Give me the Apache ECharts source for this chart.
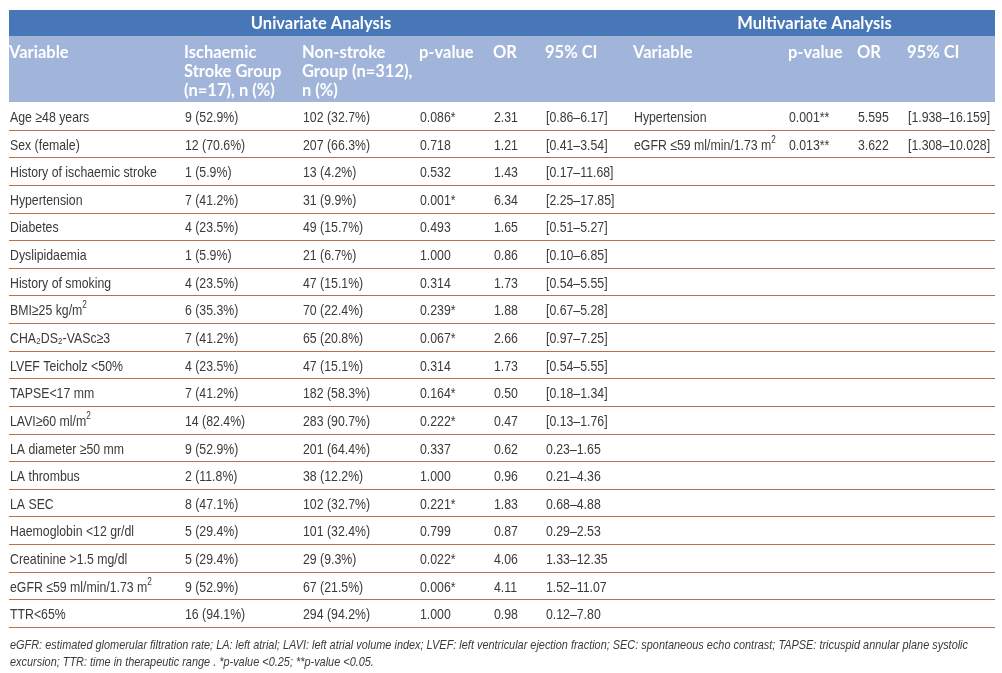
<!DOCTYPE html>
<html><head><meta charset="utf-8">
<script src="https://cdn.jsdelivr.net/npm/echarts@6/dist/echarts.min.js"></script>
<style>html,body{margin:0;padding:0;background:#fff}#c{width:1002px;height:673px}</style>
</head><body><div id="c"></div>
<script>
// ---- data ----
const variables = ['Age ≥48 years','Sex (female)','History of ischaemic stroke','Hypertension','Diabetes','Dyslipidaemia','History of smoking','BMI≥25 kg/m²','CHA₂DS₂-VASc≥3','LVEF Teicholz <50%','TAPSE<17 mm','LAVI≥60 ml/m²','LA diameter ≥50 mm','LA thrombus','LA SEC','Haemoglobin <12 gr/dl','Creatinine >1.5 mg/dl','eGFR ≤59 ml/min/1.73 m²','TTR<65%'];
const strokeGroup = ['9 (52.9%)','12 (70.6%)','1 (5.9%)','7 (41.2%)','4 (23.5%)','1 (5.9%)','4 (23.5%)','6 (35.3%)','7 (41.2%)','4 (23.5%)','7 (41.2%)','14 (82.4%)','9 (52.9%)','2 (11.8%)','8 (47.1%)','5 (29.4%)','5 (29.4%)','9 (52.9%)','16 (94.1%)'];
const nonStrokeGroup = ['102 (32.7%)','207 (66.3%)','13 (4.2%)','31 (9.9%)','49 (15.7%)','21 (6.7%)','47 (15.1%)','70 (22.4%)','65 (20.8%)','47 (15.1%)','182 (58.3%)','283 (90.7%)','201 (64.4%)','38 (12.2%)','102 (32.7%)','101 (32.4%)','29 (9.3%)','67 (21.5%)','294 (94.2%)'];
const pValues = ['0.086*','0.718','0.532','0.001*','0.493','1.000','0.314','0.239*','0.067*','0.314','0.164*','0.222*','0.337','1.000','0.221*','0.799','0.022*','0.006*','1.000'];
const oddsRatios = ['2.31','1.21','1.43','6.34','1.65','0.86','1.73','1.88','2.66','1.73','0.50','0.47','0.62','0.96','1.83','0.87','4.06','4.11','0.98'];
const ci95 = ['[0.86–6.17]','[0.41–3.54]','[0.17–11.68]','[2.25–17.85]','[0.51–5.27]','[0.10–6.85]','[0.54–5.55]','[0.67–5.28]','[0.97–7.25]','[0.54–5.55]','[0.18–1.34]','[0.13–1.76]','0.23–1.65','0.21–4.36','0.68–4.88','0.29–2.53','1.33–12.35','1.52–11.07','0.12–7.80'];
const multiVariables = ['Hypertension','eGFR ≤59 ml/min/1.73 m²'];
const multiPValues = ['0.001**','0.013**'];
const multiOddsRatios = ['5.595','3.622'];
const multiCi95 = ['[1.938–16.159]','[1.308–10.028]'];
const groupHeaders = ['Univariate Analysis','Multivariate Analysis'];
const columnHeaders = ['Variable','Ischaemic\nStroke Group\n(n=17), n (%)','Non-stroke\nGroup (n=312),\nn (%)','p-value','OR','95% CI','Variable','p-value','OR','95% CI'];
const footnoteLines = ['eGFR: estimated glomerular filtration rate; LA: left atrial; LAVI: left atrial volume index; LVEF: left ventricular ejection fraction; SEC: spontaneous echo contrast; TAPSE: tricuspid annular plane systolic','excursion; TTR: time in therapeutic range . *p-value <0.25; **p-value <0.05.'];

// ---- layout / style ----
const colLeft = [10, 185, 303, 420, 494, 546, 634, 789, 858, 908];
const tableLeft = 9, tableRight = 995;
const groupSpan = [[9, 633], [634, 995]];
const BODY_FONT = '"Liberation Sans",Arimo,Arial,"DejaVu Sans",sans-serif';
const HEAD_FONT = 'Lato,"Open Sans",sans-serif';
const NARROW = 0.82;
const TEXT_COLOR = '#3a3a3a';
const LINE_COLOR = '#b5704c';
const DARK_BLUE = '#4877b8';
const LIGHT_BLUE = '#a1b4da';

function richify(s) {
  return s.replace(/²/g, '{sup|2}');
}
const richStyles = {
  sup: { fontSize: 10, fontFamily: BODY_FONT, fill: TEXT_COLOR, verticalAlign: 'top', lineHeight: 21 }
};

const chart = echarts.init(document.getElementById('c'), null, { renderer: 'canvas' });

function renderRow(params, api) {
  const i = params.dataIndex;
  const p = api.coord([0, i]);
  const h = api.size([0, 1])[1];
  const yc = p[1] + 2;
  const cells = [variables[i], strokeGroup[i], nonStrokeGroup[i], pValues[i], oddsRatios[i], ci95[i]];
  if (i < multiVariables.length) {
    cells.push(multiVariables[i], multiPValues[i], multiOddsRatios[i], multiCi95[i]);
  }
  const children = cells.map((t, k) => ({
    type: 'text',
    x: api.coord([colLeft[k], i])[0],
    y: yc,
    scaleX: NARROW,
    style: {
      text: richify(t), fill: TEXT_COLOR, fontSize: 15, fontFamily: BODY_FONT,
      verticalAlign: 'middle', align: 'left', rich: richStyles
    }
  }));
  const yb = Math.round(p[1] + h / 2) + 0.5;
  children.push({
    type: 'line',
    shape: { x1: api.coord([tableLeft, i])[0], y1: yb, x2: api.coord([tableRight, i])[0], y2: yb },
    style: { stroke: LINE_COLOR, lineWidth: 1.2 }
  });
  return { type: 'group', children };
}

// fit footnote horizontal scale so first line spans like the original
const mctx = document.createElement('canvas').getContext('2d');
mctx.font = 'italic 13px ' + BODY_FONT;
const footScale = Math.min(1, 958 / mctx.measureText(footnoteLines[0]).width);

const graphics = [
  { type: 'rect', shape: { x: tableLeft, y: 10, width: tableRight - tableLeft, height: 26 }, style: { fill: DARK_BLUE }, silent: true },
  { type: 'rect', shape: { x: tableLeft, y: 36, width: tableRight - tableLeft, height: 66 }, style: { fill: LIGHT_BLUE }, silent: true }
];
groupHeaders.forEach((t, k) => {
  graphics.push({ type: 'text', x: (groupSpan[k][0] + groupSpan[k][1]) / 2, y: 24,
    style: { text: t, fill: '#fff', font: 'bold 16.5px ' + HEAD_FONT, align: 'center', verticalAlign: 'middle' } });
});
columnHeaders.forEach((t, k) => {
  graphics.push({ type: 'text', x: colLeft[k] - 1, y: 43,
    style: { text: t, fill: '#fff', font: 'bold 16.5px ' + HEAD_FONT, align: 'left', verticalAlign: 'top', lineHeight: 19 } });
});
graphics.push({ type: 'text', x: 10, y: 637, scaleX: footScale,
  style: { text: footnoteLines.join('\n'), fill: TEXT_COLOR, font: 'italic 13px ' + BODY_FONT, lineHeight: 17, align: 'left', verticalAlign: 'top' } });

chart.setOption({
  animation: false,
  grid: { left: 0, right: 0, top: 102, bottom: 46 },
  xAxis: { type: 'value', min: 0, max: 1002, show: false },
  yAxis: { type: 'category', data: variables, inverse: true, show: false },
  series: [{
    type: 'custom',
    renderItem: renderRow,
    data: variables.map((v, i) => i),
    encode: { y: 0 },
    clip: false
  }],
  graphic: graphics
});
</script></body></html>
